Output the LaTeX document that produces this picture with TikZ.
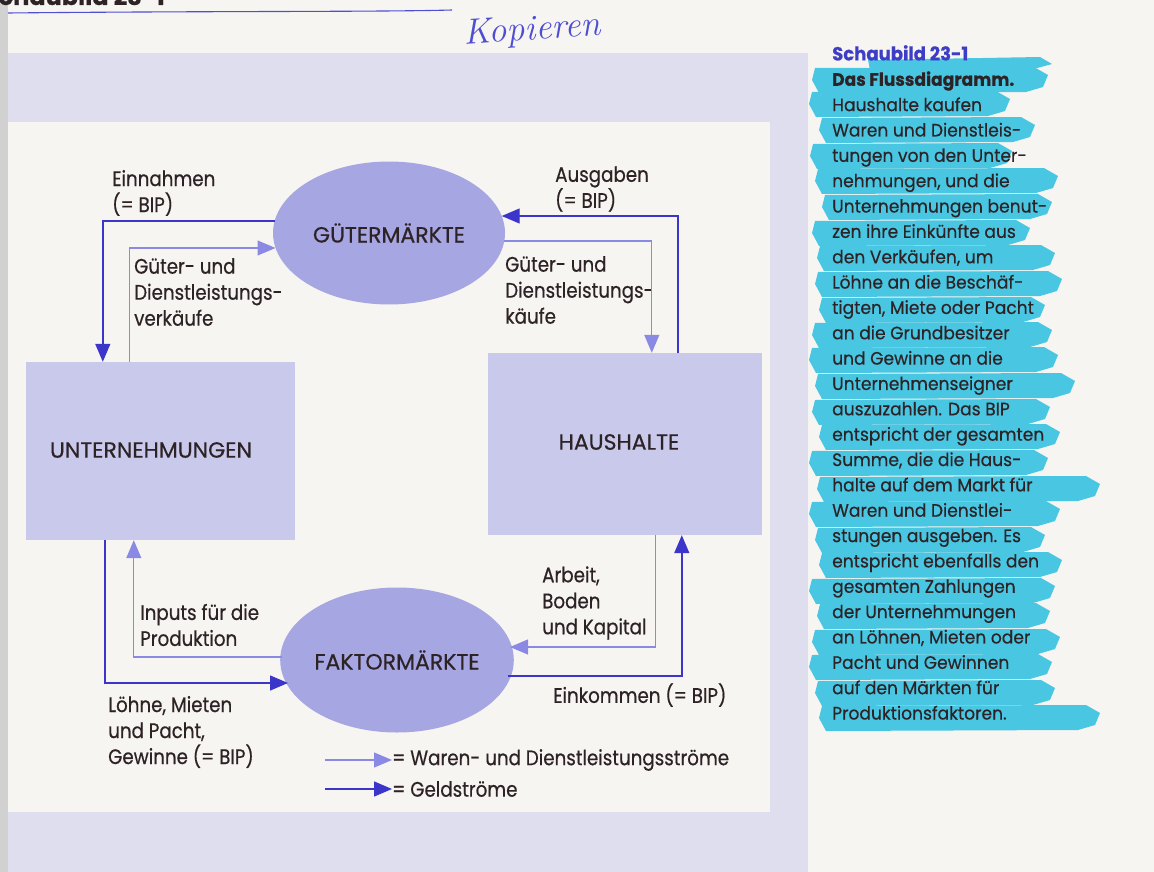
\documentclass[tikz,border=0pt]{standalone}
\usepackage{fontspec}
\newfontfamily\futl[FakeStretch=0.87,FakeBold=0.5]{Poppins}
\newfontfamily\futc[FakeBold=0.5]{Poppins}
\newfontfamily\futcap[FakeStretch=0.95,FakeBold=0.4]{Poppins}
\usetikzlibrary{shapes.geometric,arrows.meta,calc}
\definecolor{page}{HTML}{F7F5F1}
\definecolor{frame}{HTML}{DEDEEF}
\definecolor{boxfill}{HTML}{C9C9EB}
\definecolor{ellfill}{HTML}{A6A6E2}
\definecolor{ink}{HTML}{2D2326}
\definecolor{goodsc}{HTML}{8A8AE4}
\definecolor{moneyc}{HTML}{3B35C9}
\definecolor{pen}{HTML}{4E4ED2}
\definecolor{hlc}{HTML}{48C6E2}
\definecolor{capblue}{HTML}{3D3DC6}
\begin{document}
\begin{tikzpicture}[x=1pt,y=-1pt,
  lab/.style={font=\futl\fontsize{21}{26}\selectfont, text=ink, align=left, anchor=west, inner sep=0pt},
  ell/.style={ellipse, fill=ellfill, draw=none, inner sep=0pt, font=\futc\fontsize{22}{24}\selectfont, text=ink},
  box/.style={rectangle, fill=boxfill, draw=none, inner sep=0pt},
  boxtext/.style={font=\futc\fontsize{22}{24}\selectfont, text=ink, inner sep=0pt},
  goods/.style={draw=goodsc, line width=1.2pt, -{Triangle[length=18pt,width=15pt,fill=goodsc]}},
  money/.style={draw=moneyc, line width=1.4pt, -{Triangle[length=18pt,width=15pt,fill=moneyc]}},
  hl/.style={fill=hlc, draw=none}
]
\useasboundingbox (0,0) rectangle (1154,872);
% page and frame
\fill[page] (0,0) rectangle (1154,872);
\fill[black!18] (0,0) rectangle (8,872);
\fill[frame] (8,53) rectangle (808,872);
\fill[page] (8,122) rectangle (770,812);
% cut-off heading and handwriting
\node[anchor=base east, font=\futc\bfseries\fontsize{24}{24}\selectfont, text=ink, inner sep=0pt] (head) at (165,5) {Schaubild 23-1};
\draw[pen, line width=1.1pt] (8,13) .. controls (200,11) and (380,12) .. (452,10);
\node[text=pen, font=\itshape\fontsize{36}{36}\selectfont, rotate=4, inner sep=0pt] (hand) at (532,31) {Kopieren};

% nodes
\node[box, minimum width=269pt, minimum height=178pt] (un) at (160.5,451) {};
\node[boxtext] (unlab) at (151,450) {UNTERNEHMUNGEN};
\node[box, minimum width=274pt, minimum height=182pt] (hh) at (625,444) {};
\node[boxtext] (hhlab) at (619,442) {HAUSHALTE};
\node[ell, minimum width=232pt, minimum height=143pt] (gm) at (389,233) {GÜTERMÄRKTE};
\node[ell, minimum width=230pt, minimum height=145pt] (fm) at (397,660) {FAKTORMÄRKTE};

% labels
\node[lab] (einn) at (112,193) {Einnahmen\\(= BIP)};
\node[lab] (gvk) at (134,292) {Güter- und\\Dienstleistungs-\\verkäufe};
\node[lab] (ausg) at (555,189) {Ausgaben\\(= BIP)};
\node[lab] (gk) at (505,290) {Güter- und\\Dienstleistungs-\\käufe};
\node[lab] (inp) at (140,625) {Inputs für die\\Produktion};
\node[lab] (loehne) at (108,732) {Löhne, Mieten\\und Pacht,\\Gewinne (= BIP)};
\node[lab] (arb) at (542,603) {Arbeit,\\Boden\\und Kapital};
\node[lab] (eink) at (553,695) {Einkommen (= BIP)};

% connectors
\draw[money] ($(gm.center)+(-114.5,-12)$) -| ($(un.north west)+(77,0)$);
\draw[goods] ($(un.north west)+(104,0)$) |- ($(gm.center)+(-113.5,15)$);
\draw[money] ($(hh.north west)+(190,0)$) |- ($(gm.center)+(112.7,-17)$);
\draw[goods] ($(gm.center)+(115,8)$) -| ($(hh.north west)+(164,0)$);
\draw[money] ($(un.south west)+(79,0)$) |- ($(fm.center)+(-109,23)$);
\draw[goods] ($(fm.center)+(-115,-3)$) -| ($(un.south west)+(108,0)$);
\draw[goods] ($(hh.south west)+(168,0)$) |- ($(fm.center)+(113,-13)$);
\draw[money] ($(fm.center)+(111,16)$) -| ($(hh.south west)+(194,0)$);

% legend
\node[lab] (leg1) at (392,760) {= Waren- und Dienstleistungsströme};
\node[lab] (leg2) at (392,789) {= Geldströme};
\coordinate (l1) at (325,760);
\coordinate (l2) at (325,789);
\draw[goods] (l1) -- (leg1.west);
\draw[money] (l2) -- (leg2.west);

% highlighter strokes
\fill[hl] (868,60) -- (1040,57) -- (1052,64) -- (1030,70) -- (870,70) -- cycle;
\foreach \ya/\xa/\xb in {80/815/1048, 104/812/1010, 130/822/1035, 156/813/1012, 181/818/1058, 207/825/1052, 233/815/1030, 258/820/1055, 284/818/1062, 310/822/1045, 335/815/1052, 360/812/1058, 386/818/1075, 412/815/1050, 437/822/1060, 463/812/1048, 489/820/1100, 514/812/1060, 540/818/1045, 565/822/1062, 591/812/1055, 616/820/1050, 642/815/1060, 667/812/1052, 693/818/1055, 718/822/1100}{
  \fill[hl] (\xa,\ya-12) -- (\xb-14,\ya-13) -- (\xb,\ya-5) -- (\xb-5,\ya+7) -- (\xb-22,\ya+12) -- (\xa+4,\ya+13) -- (\xa-3,\ya) -- cycle;
}
% caption
\node[anchor=north west, align=left, inner sep=0pt, text=ink, font=\futcap\fontsize{18}{25.35}\selectfont] (cap) at (832,45) {%
{\color{capblue}\bfseries\fontsize{19}{25.35}\selectfont Schaubild 23-1}\\
{\bfseries Das Flussdiagramm.}\\
Haushalte kaufen\\
Waren und Dienstleis-\\
tungen von den Unter-\\
nehmungen, und die\\
Unternehmungen benut-\\
zen ihre Einkünfte aus\\
den Verkäufen, um\\
Löhne an die Beschäf-\\
tigten, Miete oder Pacht\\
an die Grundbesitzer\\
und Gewinne an die\\
Unternehmenseigner\\
auszuzahlen. Das BIP\\
entspricht der gesamten\\
Summe, die die Haus-\\
halte auf dem Markt für\\
Waren und Dienstlei-\\
stungen ausgeben. Es\\
entspricht ebenfalls den\\
gesamten Zahlungen\\
der Unternehmungen\\
an Löhnen, Mieten oder\\
Pacht und Gewinnen\\
auf den Märkten für\\
Produktionsfaktoren.};
\end{tikzpicture}
\end{document}
